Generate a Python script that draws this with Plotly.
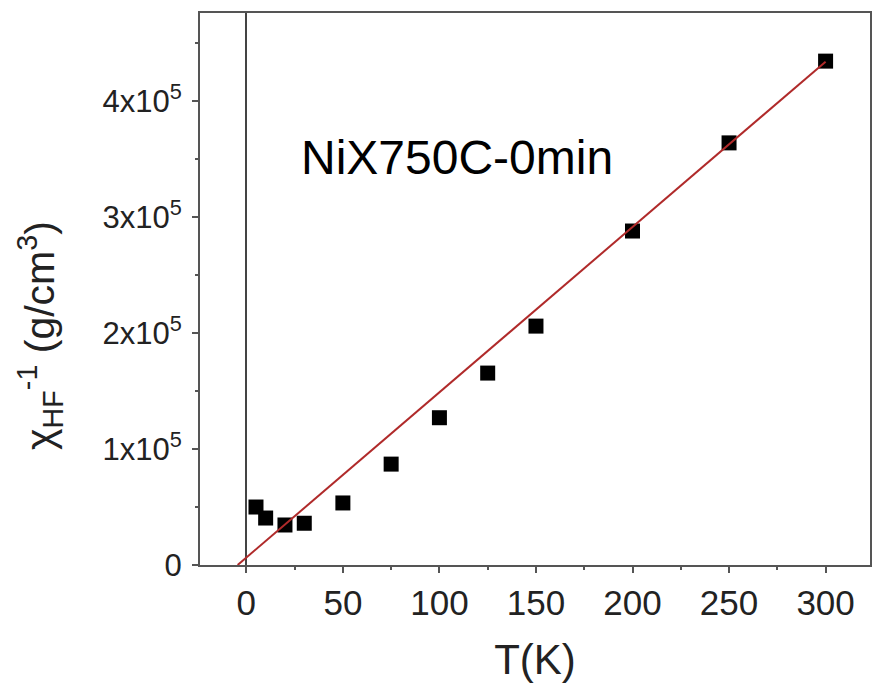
import plotly.graph_objects as go

# Data
T_K = [5, 10, 20, 30, 50, 75, 100, 125, 150, 200, 250, 300]
chi_inv = [50000, 40500, 34500, 36000, 53500, 87000, 127000, 165500, 206000, 288000, 364000, 434500]

# Linear fit endpoints
fit_T = [-4.5, 300]
fit_chi = [0, 434000]

y_tickvals = [0, 100000, 200000, 300000, 400000]
y_ticktext = ["0", "1x10<sup>5</sup>", "2x10<sup>5</sup>", "3x10<sup>5</sup>", "4x10<sup>5</sup>"]
x_tickvals = [0, 50, 100, 150, 200, 250, 300]

sample_label = "NiX750C-0min"
y_title = "χ<sub>HF</sub><sup>-1</sup> (g/cm<sup>3</sup>)"
x_title = "T(K)"

FONT = "Arial, Liberation Sans, Helvetica, sans-serif"
AX = "#555555"
TXT = "#222222"

fig = go.Figure()
fig.add_trace(go.Scatter(
    x=T_K, y=chi_inv, mode="markers",
    marker=dict(symbol="square", size=15, color="black"),
    showlegend=False,
))
fig.add_trace(go.Scatter(
    x=fit_T, y=fit_chi, mode="lines",
    line=dict(color="#b02a2a", width=2),
    showlegend=False,
))

fig.add_annotation(
    x=109, y=351000, xref="x", yref="y",
    text=sample_label, showarrow=False,
    font=dict(family=FONT, size=48, color="black"),
)

# y-axis title as annotation (placed slightly below plot centre like the reference)
fig.add_annotation(
    x=0, y=0.415, xref="paper", yref="paper",
    xanchor="center", yanchor="middle", xshift=-160,
    text=y_title, textangle=-90, showarrow=False,
    font=dict(family=FONT, size=41, color=TXT),
)

fig.update_xaxes(
    range=[-24, 323],
    tickmode="array", tickvals=x_tickvals,
    ticks="outside", ticklen=6, tickwidth=1.5, tickcolor=AX,
    minor=dict(dtick=25, tick0=0, ticks="outside", ticklen=3, tickcolor=AX),
    showline=True, linecolor=AX, linewidth=2, mirror=True,
    showgrid=False,
    zeroline=True, zerolinecolor="#444444", zerolinewidth=1.5,
    tickfont=dict(family=FONT, size=35, color=TXT),
    title=dict(text=x_title, font=dict(family=FONT, size=42, color=TXT), standoff=24),
)
fig.update_yaxes(
    range=[0, 476000],
    tickmode="array", tickvals=y_tickvals, ticktext=y_ticktext,
    ticks="outside", ticklen=6, tickwidth=1.5, tickcolor=AX,
    ticklabelstandoff=4,
    minor=dict(dtick=50000, tick0=0, ticks="outside", ticklen=3, tickcolor=AX),
    showline=True, linecolor=AX, linewidth=2, mirror=True,
    showgrid=False, zeroline=False,
    tickfont=dict(family=FONT, size=31, color=TXT),
)

# Plot area at x 200-870, y 13-565 as in the reference
fig.update_layout(
    width=875, height=686,
    margin=dict(l=200, r=5, t=13, b=121, autoexpand=False),
    paper_bgcolor="white", plot_bgcolor="white",
    font=dict(family=FONT),
)

fig.write_html(
    "out.html",
    config={"displayModeBar": False},
    post_script="document.body.style.margin='0';document.documentElement.style.overflow='hidden';document.body.style.overflow='hidden';",
)
